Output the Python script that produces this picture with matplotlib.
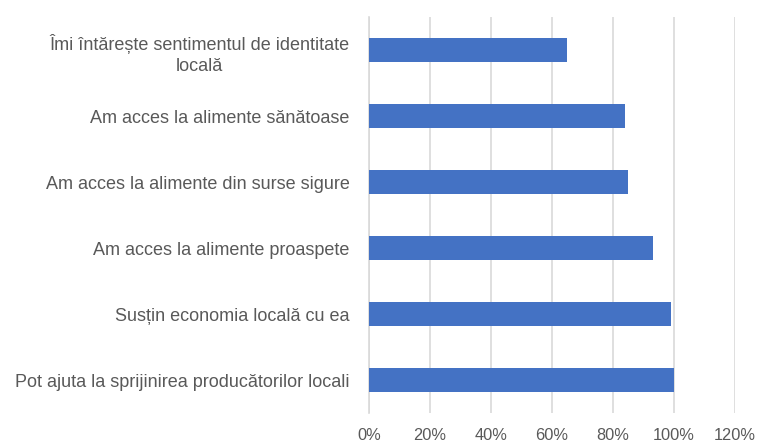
import numpy as np
import matplotlib.pyplot as plt
from matplotlib.ticker import FuncFormatter

# ------------------------------------------------------------
# data (top to bottom as shown in the chart)
# ------------------------------------------------------------
categories = [
    "Îmi întărește sentimentul de identitate\nlocală",
    "Am acces la alimente sănătoase",
    "Am acces la alimente din surse sigure",
    "Am acces la alimente proaspete",
    "Susțin economia locală cu ea",
    "Pot ajuta la sprijinirea producătorilor locali",
]
values = [0.65, 0.84, 0.85, 0.93, 0.99, 1.00]
x_ticks = [0, 0.2, 0.4, 0.6, 0.8, 1.0, 1.2]

bar_color = "#4472C4"
text_color = "#595959"
grid_color = "#D9D9D9"

plt.rcParams["font.family"] = ["Liberation Sans", "DejaVu Sans"]

fig = plt.figure(figsize=(7.59, 4.44), dpi=100)
ax = fig.add_axes([369 / 759, 1 - 413 / 444, (735 - 369) / 759, (413 - 17) / 444])

y = np.arange(len(categories))[::-1]
ax.barh(y, values, height=0.35, color=bar_color, zorder=3)

ax.set_xlim(0, 1.2)
ax.set_ylim(-0.5, len(categories) - 0.5)
ax.set_xticks(x_ticks)
ax.xaxis.set_major_formatter(FuncFormatter(lambda v, p: f"{v * 100:.0f}%"))
ax.set_yticks(y)
ax.set_yticklabels(categories, multialignment="center", linespacing=1.35)

ax.grid(axis="x", color=grid_color, lw=1.2, zorder=0)
for s in ["top", "right", "bottom"]:
    ax.spines[s].set_visible(False)
ax.spines["left"].set_color(grid_color)
ax.spines["left"].set_linewidth(1.2)

ax.tick_params(axis="both", length=0, colors=text_color)
ax.tick_params(axis="y", pad=14, labelsize=13)
ax.tick_params(axis="x", pad=11, labelsize=11.8)

fig.savefig("out.png", dpi=100)
